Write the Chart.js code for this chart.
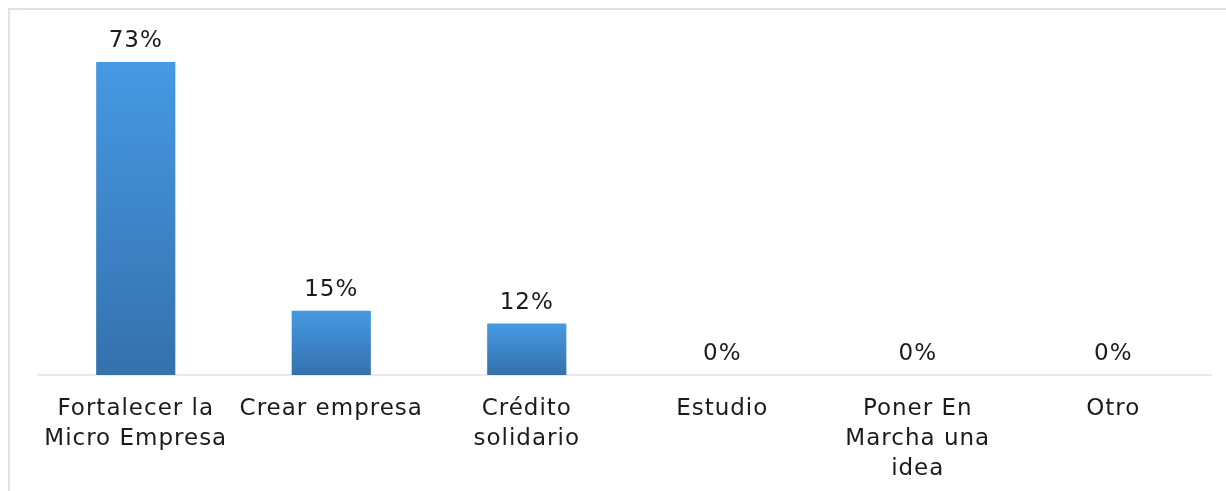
<!DOCTYPE html>
<html>
<head>
<meta charset="utf-8">
<script src="https://cdn.jsdelivr.net/npm/chart.js@4/dist/chart.umd.min.js"></script>
<style>
  html, body { margin: 0; padding: 0; background: #fff; }
  #wrap { width: 1226px; height: 491px; }
</style>
</head>
<body>
<div id="wrap"><canvas id="chart"></canvas></div>
<script>
// data
const categories = [
    ['Fortalecer la', 'Micro Empresa'],
    'Crear empresa',
    ['Crédito', 'solidario'],
    'Estudio',
    ['Poner En', 'Marcha una', 'idea'],
    'Otro'
];
const percentages = [73, 15, 12, 0, 0, 0];

const FONT = { family: '"DejaVu Sans", sans-serif', size: 23 };
const TEXT_COLOR = '#1b1b1b';

// per-bar vertical gradient, light on top, darker at the base
function barGradient(context) {
    const chart = context.chart;
    const { ctx, chartArea, scales } = chart;
    if (!chartArea) return '#4599e3';
    const top = scales.y.getPixelForValue(context.raw);
    const bottom = scales.y.getPixelForValue(0);
    if (bottom - top < 1) return '#4599e3';
    const g = ctx.createLinearGradient(0, top, 0, bottom);
    g.addColorStop(0, '#4699e3');
    g.addColorStop(1, '#3471ad');
    return g;
}

// frame lines around the chart + letter spacing for the stretched look
const framePlugin = {
    id: 'frame',
    beforeDraw(chart) {
        const ctx = chart.ctx;
        ctx.save();
        ctx.strokeStyle = '#dfe3e8';
        ctx.lineWidth = 2;
        ctx.beginPath();
        ctx.moveTo(chart.width, 9);
        ctx.lineTo(9, 9);
        ctx.lineTo(9, chart.height);
        ctx.stroke();
        ctx.restore();
        ctx.letterSpacing = '1px';
    }
};

// value labels above each bar
const valueLabels = {
    id: 'valueLabels',
    afterDatasetsDraw(chart) {
        const ctx = chart.ctx;
        const meta = chart.getDatasetMeta(0);
        ctx.save();
        ctx.font = `${FONT.size}px ${FONT.family}`;
        ctx.fillStyle = TEXT_COLOR;
        ctx.textAlign = 'center';
        ctx.textBaseline = 'alphabetic';
        meta.data.forEach((bar, i) => {
            ctx.fillText(percentages[i] + '%', bar.x, bar.y - 15);
        });
        ctx.restore();
    }
};

new Chart(document.getElementById('chart'), {
    type: 'bar',
    data: {
        labels: categories,
        datasets: [{
            data: percentages,
            backgroundColor: barGradient,
            borderWidth: 0,
            categoryPercentage: 1,
            barPercentage: 0.405
        }]
    },
    options: {
        responsive: true,
        maintainAspectRatio: false,
        animation: false,
        layout: { padding: { left: 38, right: 15, top: 32, bottom: 0 } },
        plugins: {
            legend: { display: false },
            tooltip: { enabled: false }
        },
        scales: {
            x: {
                grid: { display: false, drawTicks: false },
                border: { display: true, color: '#e6e9ee', width: 2 },
                ticks: {
                    color: TEXT_COLOR,
                    font: { ...FONT, lineHeight: 1.3 },
                    padding: 19,
                    maxRotation: 0,
                    autoSkip: false
                },
                afterFit(scale) { scale.height = 116; }
            },
            y: {
                display: false,
                min: 0,
                max: 80
            }
        }
    },
    plugins: [framePlugin, valueLabels]
});
</script>
</body>
</html>
